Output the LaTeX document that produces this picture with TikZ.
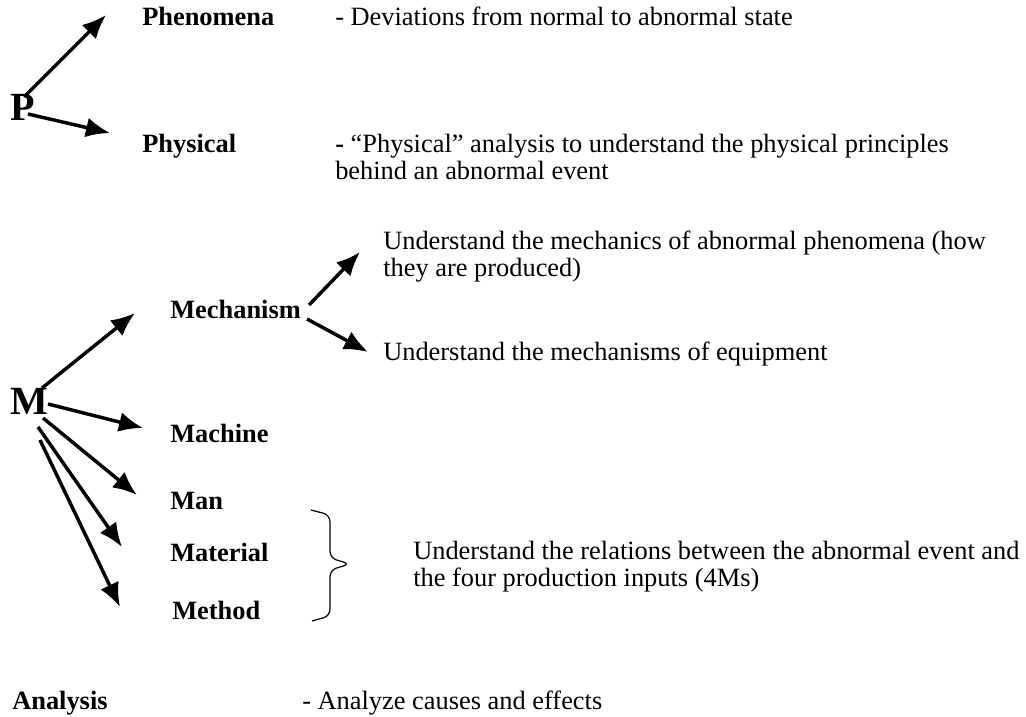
\documentclass[tikz,border=0pt]{standalone}
\usepackage{fontspec}
\setmainfont{Liberation Serif}
\usetikzlibrary{arrows.meta,calc}

\begin{document}
\begin{tikzpicture}[x=0.75pt,y=-0.75pt,
  lbl/.style={font=\fontsize{19.8}{20.25}\selectfont\bfseries, anchor=base west, inner sep=0pt},
  txt/.style={font=\fontsize{19.8}{20.25}\selectfont, anchor=base west, inner sep=0pt, align=left},
  big/.style={font=\fontsize{30}{30}\selectfont\bfseries, anchor=base west, inner sep=0pt},
  arr/.style={arrows={-Latex[length=18pt,width=15pt]}, line width=2.6pt}]
\useasboundingbox (0,0) rectangle (1026,717);

%P branch
\node[big] at (10,121) (p) {P};
\node[lbl] at (142,26) (phen) {Phenomena};
\node[txt] at (335,26) (phendesc) {- Deviations from normal to abnormal state};
\node[lbl] at (142,153) (phys) {Physical};
\node[txt] at (335,180) (physdesc) {\textbf{-} “Physical” analysis to understand the physical principles\\behind an abnormal event};

\draw[arr] ($(p.base west)+(14,-24)$) -- ($(phen.base west)+(-36,-11)$);
\draw[arr] ($(p.base west)+(18,-7)$) -- ($(phys.base west)+(-32,-20)$);

%M branch
\node[big] at (10,414) (m) {M};
\node[lbl] at (170,318) (mech) {Mechanism};
\node[lbl] at (170,442) (mach) {Machine};
\node[lbl] at (170,509) (man) {Man};
\node[lbl] at (170,561) (mat) {Material};
\node[lbl] at (172,619) (meth) {Method};

\node[txt] at (383,276) (mechdesc) {Understand the mechanics of abnormal phenomena (how\\they are produced)};
\node[txt] at (383,360) (equipdesc) {Understand the mechanisms of equipment};
\node[txt] at (413,586) (inputdesc) {Understand the relations between the abnormal event and\\the four production inputs (4Ms)};

\draw[arr] ($(m.base west)+(32,-26)$) -- ($(mech.base west)+(-35,-5)$);
\draw[arr] ($(m.base west)+(38,-10)$) -- ($(mach.base west)+(-27,-14)$);
\draw[arr] ($(m.base west)+(33,4)$) -- ($(man.base west)+(-33,-14)$);
\draw[arr] ($(m.base west)+(28,13)$) -- ($(mat.base west)+(-48,-14)$);
\draw[arr] ($(m.base west)+(30,26)$) -- ($(meth.base west)+(-52,-12)$);

%mechanism splits in two
\draw[arr] ($(mech.base east)+(8,-13)$) -- ($(mechdesc.base west)+(-23,-24)$);
\draw[arr] ($(mech.base east)+(6,1)$) -- ($(equipdesc.base west)+(-15,-8)$);

%brace over the last three inputs
\draw[line width=0.9pt, rounded corners=5pt]
  (311,510) -- (330,515) -- (330,558) -- (350,564) -- (330,570) -- (330,616) -- (312,621);

%analysis
\node[lbl] at (12,709) (anl) {Analysis};
\node[txt] at (302,709) (anldesc) {- Analyze causes and effects};

\end{tikzpicture}
\end{document}
